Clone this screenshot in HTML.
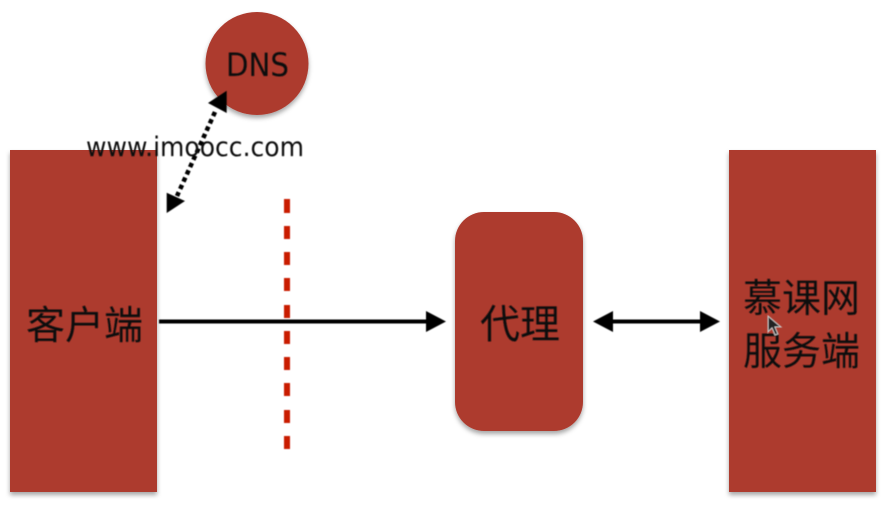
<!DOCTYPE html>
<html><head><meta charset="utf-8"><style>
html,body{margin:0;padding:0;background:#fff;width:889px;height:512px;overflow:hidden}
svg{display:block}
.cjk{font-family:"Liberation Sans","Noto Sans CJK SC",sans-serif;font-size:39px;fill:#111}
.lat{font-family:"DejaVu Sans",sans-serif;fill:#111}
</style></head><body>
<svg width="889" height="512" viewBox="0 0 889 512" xmlns="http://www.w3.org/2000/svg">
<defs>
<filter id="s" x="-20%" y="-20%" width="140%" height="140%"><feGaussianBlur in="SourceAlpha" stdDeviation="2.5"/><feOffset dy="3"/><feColorMatrix values="0 0 0 0 0 0 0 0 0 0 0 0 0 0 0 0 0 0 .35 0"/><feMerge><feMergeNode/><feMergeNode in="SourceGraphic"/></feMerge></filter>
<filter id="b" x="-5%" y="-5%" width="110%" height="110%"><feGaussianBlur stdDeviation="0.4"/></filter>
</defs>
<rect width="889" height="512" fill="#fff"/>
<g fill="#ad3b2f" filter="url(#s)">
<rect x="10" y="150" width="147" height="342"/>
<rect x="729" y="150" width="147" height="342"/>
<rect x="455" y="212" width="128" height="219" rx="29"/>
<circle cx="257" cy="63.500" r="51.500"/>
</g>
<g filter="url(#b)">
<g fill="#c91d06">
<rect x="284" y="199" width="6" height="14"/><rect x="284" y="226" width="6" height="13"/><rect x="284" y="252" width="6" height="13"/><rect x="284" y="278" width="6" height="13"/>
<rect x="284" y="305" width="6" height="13"/><rect x="284" y="331" width="6" height="13"/><rect x="284" y="357" width="6" height="13"/><rect x="284" y="383" width="6" height="13"/><rect x="284" y="410" width="6" height="13"/><rect x="284" y="436" width="6" height="13"/>
</g>
<rect x="159" y="319.500" width="270" height="4" fill="#000"/>
<polygon points="446,321.500 426,311 426,332" fill="#000"/>
<rect x="610" y="319.500" width="94" height="4" fill="#000"/>
<polygon points="593,321.500 613,311 613,332" fill="#000"/>
<polygon points="720,321.500 700,311 700,332" fill="#000"/>
<line x1="215" y1="112" x2="177" y2="196" stroke="#000" stroke-width="4.500" stroke-dasharray="4.500 3.500"/>
<polygon points="226.700,90.700 208,103 226.700,113" fill="#000"/>
<polygon points="166.700,213 166.700,192.700 185,201" fill="#000"/>
<text class="lat" x="226" y="76" font-size="32" textLength="63" lengthAdjust="spacingAndGlyphs">DNS</text>
<text class="lat" x="86" y="156" font-size="27" textLength="218" lengthAdjust="spacingAndGlyphs">www.imoocc.com</text>
<text class="cjk" x="26" y="339">客户端</text>
<text class="cjk" x="480" y="338" font-size="40" style="font-size:40px">代理</text>
<text class="cjk" x="743" y="312">慕课网</text>
<text class="cjk" x="743" y="365">服务端</text>
<polygon points="768,316 768,332 772,328 775,335 778,334 775,327 781,327" fill="#222" stroke="#ccc" stroke-width="1"/>
</g>
</svg>
</body></html>
